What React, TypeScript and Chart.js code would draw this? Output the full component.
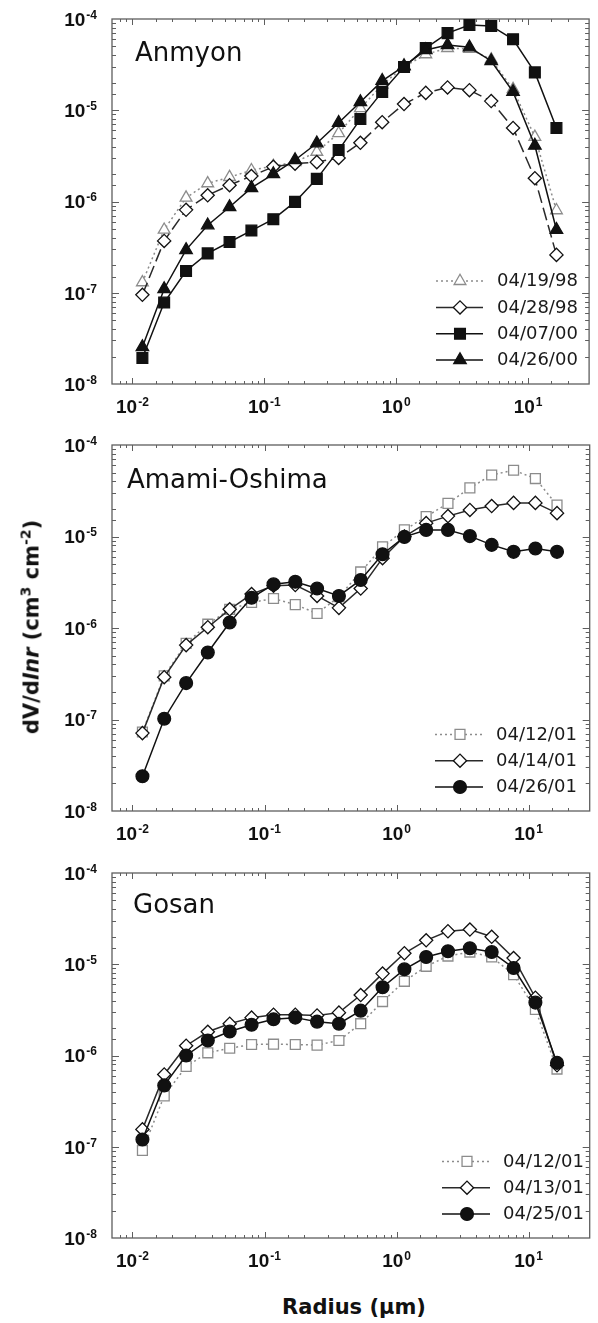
import React, { useEffect, useRef } from 'react';
import { Chart, registerables } from 'chart.js';

Chart.register(...registerables);

// ---------------- DATA ----------------
const radiusUm = [0.0119, 0.0174, 0.0255, 0.0372, 0.0545, 0.0798, 0.117, 0.171, 0.25, 0.366, 0.535, 0.783, 1.146, 1.675, 2.45, 3.59, 5.25, 7.69, 11.25, 16.4];

// Anmyon
const anmyon_041998 = [1.3e-7, 4.9e-7, 1.1e-6, 1.58e-6, 1.85e-6, 2.2e-6, 2.45e-6, 2.7e-6, 3.5e-6, 5.6e-6, 1.05e-5, 1.9e-5, 3.0e-5, 4.1e-5, 4.8e-5, 4.7e-5, 3.6e-5, 1.7e-5, 5.1e-6, 8.0e-7];
const anmyon_042898 = [9.5e-8, 3.7e-7, 8.1e-7, 1.17e-6, 1.51e-6, 1.9e-6, 2.4e-6, 2.6e-6, 2.7e-6, 3.0e-6, 4.4e-6, 7.4e-6, 1.17e-5, 1.55e-5, 1.78e-5, 1.66e-5, 1.26e-5, 6.4e-6, 1.8e-6, 2.6e-7];
const anmyon_040700 = [1.93e-8, 7.8e-8, 1.73e-7, 2.7e-7, 3.6e-7, 4.8e-7, 6.4e-7, 9.9e-7, 1.77e-6, 3.66e-6, 8.0e-6, 1.59e-5, 2.98e-5, 4.8e-5, 7.0e-5, 8.6e-5, 8.4e-5, 6.0e-5, 2.6e-5, 6.4e-6];
const anmyon_042600 = [2.55e-8, 1.1e-7, 2.95e-7, 5.5e-7, 8.7e-7, 1.41e-6, 2.0e-6, 2.85e-6, 4.35e-6, 7.3e-6, 1.23e-5, 2.1e-5, 3.05e-5, 4.57e-5, 5.2e-5, 4.9e-5, 3.47e-5, 1.59e-5, 4.1e-6, 4.9e-7];
const anmyonLabels = ['04/19/98', '04/28/98', '04/07/00', '04/26/00'];

// Amami-Oshima
const amami_041201 = [7.3e-8, 3.0e-7, 6.8e-7, 1.1e-6, 1.6e-6, 1.9e-6, 2.1e-6, 1.8e-6, 1.44e-6, 2.2e-6, 4.1e-6, 7.7e-6, 1.18e-5, 1.65e-5, 2.3e-5, 3.4e-5, 4.7e-5, 5.3e-5, 4.3e-5, 2.2e-5];
const amami_041401 = [7.1e-8, 2.9e-7, 6.5e-7, 1.02e-6, 1.6e-6, 2.35e-6, 2.9e-6, 2.95e-6, 2.24e-6, 1.66e-6, 2.7e-6, 5.8e-6, 1.0e-5, 1.4e-5, 1.67e-5, 1.95e-5, 2.15e-5, 2.33e-5, 2.33e-5, 1.8e-5];
const amami_042601 = [2.4e-8, 1.02e-7, 2.5e-7, 5.4e-7, 1.15e-6, 2.14e-6, 3.0e-6, 3.2e-6, 2.7e-6, 2.24e-6, 3.35e-6, 6.4e-6, 9.9e-6, 1.18e-5, 1.18e-5, 1.01e-5, 8.1e-6, 6.8e-6, 7.4e-6, 6.8e-6];
const amamiLabels = ['04/12/01', '04/14/01', '04/26/01'];

// Gosan
const gosan_041201 = [9.1e-8, 3.6e-7, 7.6e-7, 1.07e-6, 1.2e-6, 1.32e-6, 1.33e-6, 1.32e-6, 1.3e-6, 1.46e-6, 2.23e-6, 3.9e-6, 6.5e-6, 9.5e-6, 1.23e-5, 1.36e-5, 1.2e-5, 7.7e-6, 3.2e-6, 7.1e-7];
const gosan_041301 = [1.55e-7, 6.2e-7, 1.28e-6, 1.82e-6, 2.23e-6, 2.6e-6, 2.8e-6, 2.8e-6, 2.75e-6, 2.95e-6, 4.6e-6, 7.9e-6, 1.32e-5, 1.83e-5, 2.3e-5, 2.4e-5, 2.0e-5, 1.17e-5, 4.3e-6, 7.8e-7];
const gosan_042501 = [1.2e-7, 4.7e-7, 1.0e-6, 1.46e-6, 1.83e-6, 2.17e-6, 2.5e-6, 2.6e-6, 2.35e-6, 2.23e-6, 3.1e-6, 5.6e-6, 8.8e-6, 1.2e-5, 1.39e-5, 1.5e-5, 1.36e-5, 9.1e-6, 3.8e-6, 8.3e-7];
const gosanLabels = ['04/12/01', '04/13/01', '04/25/01'];

const panelTitles = ['Anmyon', 'Amami-Oshima', 'Gosan'];

// Axis ticks
const xMajorTicks = [0.01, 0.1, 1, 10];
const xTickExponents = ['-2', '-1', '0', '1'];
const yMajorTicks = [1e-8, 1e-7, 1e-6, 1e-5, 1e-4];
const yTickExponents = ['-8', '-7', '-6', '-5', '-4'];
const xRange = [0.007, 29];
const yRange = [1e-8, 1e-4];

const yTitleMain = 'dV/d';
const yTitleItalic = 'lnr';
const xTitle = 'Radius (\u03bcm)';

// ---------------- STYLES ----------------
const GRAY = '#8c8c8c';
const BLACK = '#111111';
const FRAME = '#5e5e5e';

type Sty = {
  shape: string; r: number; fill: string; stroke: string; line: string; dash: number[]; legDash: number[]; order: number;
};
const sGrayTri: Sty = { shape: 'triangle', r: 6.8, fill: '#ffffff', stroke: GRAY, line: GRAY, dash: [2, 3], legDash: [2, 3], order: 3 };
const sDiamondDash: Sty = { shape: 'rectRot', r: 6.6, fill: '#ffffff', stroke: BLACK, line: '#2a2a2a', dash: [13, 5], legDash: [], order: 2 };
const sSquare: Sty = { shape: 'rect', r: 7.6, fill: BLACK, stroke: BLACK, line: BLACK, dash: [], legDash: [], order: 1 };
const sTriangle: Sty = { shape: 'triangle', r: 7.2, fill: BLACK, stroke: BLACK, line: BLACK, dash: [], legDash: [], order: 0 };
const sGraySquare: Sty = { shape: 'rect', r: 7.0, fill: '#ffffff', stroke: GRAY, line: GRAY, dash: [2, 3], legDash: [2, 3], order: 3 };
const sDiamond: Sty = { shape: 'rectRot', r: 6.6, fill: '#ffffff', stroke: BLACK, line: '#2a2a2a', dash: [], legDash: [], order: 2 };
const sCircle: Sty = { shape: 'circle', r: 6.4, fill: BLACK, stroke: BLACK, line: BLACK, dash: [], legDash: [], order: 0 };

type PanelCfg = {
  title: string;
  series: { label: string; values: number[]; sty: Sty }[];
  top: number; height: number; areaTop: number; areaBottom: number;
  titleX: number; titleBase: number;
  legLineA: number; legLineB: number; legMark: number; legText: number;
};

const panels: PanelCfg[] = [
  {
    title: panelTitles[0],
    series: [
      { label: anmyonLabels[0], values: anmyon_041998, sty: sGrayTri },
      { label: anmyonLabels[1], values: anmyon_042898, sty: sDiamondDash },
      { label: anmyonLabels[2], values: anmyon_040700, sty: sSquare },
      { label: anmyonLabels[3], values: anmyon_042600, sty: sTriangle },
    ],
    top: 0, height: 420, areaTop: 19, areaBottom: 384,
    titleX: 135, titleBase: 61,
    legLineA: 436, legLineB: 483, legMark: 460, legText: 497,
  },
  {
    title: panelTitles[1],
    series: [
      { label: amamiLabels[0], values: amami_041201, sty: sGraySquare },
      { label: amamiLabels[1], values: amami_041401, sty: sDiamond },
      { label: amamiLabels[2], values: amami_042601, sty: sCircle },
    ],
    top: 420, height: 430, areaTop: 25, areaBottom: 391,
    titleX: 127, titleBase: 68,
    legLineA: 435, legLineB: 483, legMark: 460, legText: 496,
  },
  {
    title: panelTitles[2],
    series: [
      { label: gosanLabels[0], values: gosan_041201, sty: sGraySquare },
      { label: gosanLabels[1], values: gosan_041301, sty: sDiamond },
      { label: gosanLabels[2], values: gosan_042501, sty: sCircle },
    ],
    top: 850, height: 430, areaTop: 23, areaBottom: 388,
    titleX: 133, titleBase: 63,
    legLineA: 442, legLineB: 490, legMark: 467, legText: 503,
  },
];

const W = 598;
const AREA_LEFT = 112;
const AREA_RIGHT = 596;

// ---------------- DRAW HELPERS ----------------
function markerPath(ctx: CanvasRenderingContext2D, shape: string, r: number, x: number, y: number) {
  ctx.beginPath();
  if (shape === 'circle') {
    ctx.arc(x, y, r, 0, Math.PI * 2);
  } else if (shape === 'rect') {
    const s = r * Math.SQRT1_2;
    ctx.rect(x - s, y - s, 2 * s, 2 * s);
  } else if (shape === 'rectRot') {
    ctx.moveTo(x - r, y);
    ctx.lineTo(x, y - r);
    ctx.lineTo(x + r, y);
    ctx.lineTo(x, y + r);
    ctx.closePath();
  } else {
    ctx.moveTo(x, y - r);
    ctx.lineTo(x + r * 0.866, y + r * 0.5);
    ctx.lineTo(x - r * 0.866, y + r * 0.5);
    ctx.closePath();
  }
}

const TICK_FONT = 'bold 19px "Liberation Sans", Arial, sans-serif';
const EXP_FONT = 'bold 12px "Liberation Sans", Arial, sans-serif';

function drawPow(ctx: CanvasRenderingContext2D, x: number, base: number, exp: string, align: 'center' | 'right') {
  ctx.font = TICK_FONT;
  const w1 = ctx.measureText('10').width;
  ctx.font = EXP_FONT;
  const w2 = ctx.measureText(exp).width;
  const total = w1 + 1 + w2;
  const x0 = align === 'center' ? x - total / 2 : x - total;
  ctx.fillStyle = '#111';
  ctx.textAlign = 'left';
  ctx.textBaseline = 'alphabetic';
  ctx.font = TICK_FONT;
  ctx.fillText('10', x0, base);
  ctx.font = EXP_FONT;
  ctx.fillText(exp, x0 + w1 + 1, base - 7);
}

function isDecade(v: number) {
  const l = Math.log10(v);
  return Math.abs(l - Math.round(l)) < 1e-6;
}

function makeDecor(p: PanelCfg) {
  return {
    id: 'decor',
    beforeDatasetsDraw(chart: any) {
      const { ctx, chartArea: a } = chart;
      const xs = chart.scales.x;
      const ys = chart.scales.y;
      ctx.save();
      ctx.strokeStyle = FRAME;
      ctx.lineWidth = 1.3;
      ctx.strokeRect(a.left, a.top, a.right - a.left, a.bottom - a.top);
      ctx.lineWidth = 1;
      ctx.beginPath();
      for (const t of xs.ticks) {
        const px = Math.round(xs.getPixelForValue(t.value)) + 0.5;
        if (px <= a.left + 1 || px >= a.right - 1) continue;
        const len = isDecade(t.value) ? 6 : 3;
        ctx.moveTo(px, a.bottom);
        ctx.lineTo(px, a.bottom - len);
        ctx.moveTo(px, a.top);
        ctx.lineTo(px, a.top + len);
      }
      for (const t of ys.ticks) {
        const py = Math.round(ys.getPixelForValue(t.value)) + 0.5;
        if (py <= a.top + 1 || py >= a.bottom - 1) continue;
        const len = isDecade(t.value) ? 7 : 4;
        ctx.moveTo(a.left, py);
        ctx.lineTo(a.left + len, py);
        ctx.moveTo(a.right, py);
        ctx.lineTo(a.right - len, py);
      }
      ctx.stroke();
      ctx.restore();
    },
    afterDraw(chart: any) {
      const { ctx, chartArea: a } = chart;
      const xs = chart.scales.x;
      const ys = chart.scales.y;
      ctx.save();
      // tick labels
      xMajorTicks.forEach((v, i) => {
        drawPow(ctx, xs.getPixelForValue(v), a.bottom + 29, xTickExponents[i], 'center');
      });
      yMajorTicks.forEach((v, i) => {
        drawPow(ctx, a.left - 15, ys.getPixelForValue(v) + 6.8, yTickExponents[i], 'right');
      });
      // panel title
      ctx.fillStyle = '#111';
      ctx.font = '26px "DejaVu Sans", sans-serif';
      ctx.textAlign = 'left';
      ctx.textBaseline = 'alphabetic';
      ctx.fillText(p.title, p.titleX, p.titleBase);
      // legend
      const n = p.series.length;
      p.series.forEach((s, i) => {
        const y = a.bottom - 24 - (n - 1 - i) * 26.3;
        const st = s.sty;
        ctx.save();
        ctx.strokeStyle = st.line;
        ctx.lineWidth = 1.5;
        ctx.setLineDash(st.legDash);
        ctx.beginPath();
        ctx.moveTo(p.legLineA, y);
        ctx.lineTo(p.legLineB, y);
        ctx.stroke();
        ctx.setLineDash([]);
        markerPath(ctx, st.shape, st.r, p.legMark, y);
        ctx.fillStyle = st.fill;
        ctx.fill();
        ctx.strokeStyle = st.stroke;
        ctx.lineWidth = 1.3;
        ctx.stroke();
        ctx.restore();
        ctx.fillStyle = '#1a1a1a';
        ctx.font = '18px "DejaVu Sans", sans-serif';
        ctx.textAlign = 'left';
        ctx.textBaseline = 'middle';
        ctx.fillText(s.label, p.legText, y + 0.5);
      });
      ctx.restore();
    },
  };
}

function Panel({ p }: { p: PanelCfg }) {
  const ref = useRef<HTMLCanvasElement>(null);
  useEffect(() => {
    const canvas = ref.current;
    if (!canvas) return;
    const datasets = p.series.map((s) => ({
      label: s.label,
      data: radiusUm.map((x, i) => ({ x, y: s.values[i] })),
      borderColor: s.sty.line,
      borderWidth: 1.5,
      borderDash: s.sty.dash,
      pointStyle: s.sty.shape,
      pointRadius: s.sty.r,
      pointBackgroundColor: s.sty.fill,
      pointBorderColor: s.sty.stroke,
      pointBorderWidth: 1.3,
      tension: 0,
      fill: false,
      order: s.sty.order,
    }));
    const chart = new Chart(canvas, {
      type: 'line',
      data: { datasets },
      options: {
        responsive: false,
        animation: false,
        events: [],
        devicePixelRatio: 1,
        layout: { padding: { top: p.areaTop, left: 0, right: W - AREA_RIGHT, bottom: 0 } },
        plugins: { legend: { display: false }, tooltip: { enabled: false } },
        scales: {
          x: {
            type: 'logarithmic',
            position: 'bottom',
            min: xRange[0],
            max: xRange[1],
            grid: { display: false },
            border: { display: false },
            ticks: { display: false },
            afterFit: (s: any) => { s.height = p.height - p.areaBottom; },
          },
          y: {
            type: 'logarithmic',
            position: 'left',
            min: yRange[0],
            max: yRange[1],
            grid: { display: false },
            border: { display: false },
            ticks: { display: false },
            afterFit: (s: any) => { s.width = AREA_LEFT; },
          },
        },
      } as any,
      plugins: [makeDecor(p)],
    } as any);
    return () => chart.destroy();
  }, [p]);
  return (
    <canvas
      ref={ref}
      width={W}
      height={p.height}
      style={{ position: 'absolute', left: 0, top: p.top, width: W, height: p.height }}
    />
  );
}

export default function App() {
  const titleFont = '"DejaVu Sans", sans-serif';
  return (
    <div style={{ position: 'absolute', left: 0, top: 0, width: W, height: 1323, background: '#fff', overflow: 'hidden' }}>
      {panels.map((p, i) => (
        <Panel key={i} p={p} />
      ))}
      <div
        style={{
          position: 'absolute',
          left: 32,
          top: 627,
          transform: 'translate(-50%, -50%) rotate(-90deg)',
          whiteSpace: 'nowrap',
          fontFamily: titleFont,
          fontWeight: 'bold',
          fontSize: 21,
          lineHeight: '21px',
          color: '#111',
        }}
      >
        {yTitleMain}
        <i>{yTitleItalic}</i>
        {' (cm'}
        <sup style={{ fontSize: 14, lineHeight: 0 }}>3</sup>
        {' cm'}
        <sup style={{ fontSize: 14, lineHeight: 0 }}>-2</sup>
        {')'}
      </div>
      <div
        style={{
          position: 'absolute',
          left: (AREA_LEFT + AREA_RIGHT) / 2,
          top: 1307,
          transform: 'translate(-50%, -50%)',
          whiteSpace: 'nowrap',
          fontFamily: titleFont,
          fontWeight: 'bold',
          fontSize: 21,
          lineHeight: '21px',
          color: '#111',
        }}
      >
        {xTitle}
      </div>
    </div>
  );
}
